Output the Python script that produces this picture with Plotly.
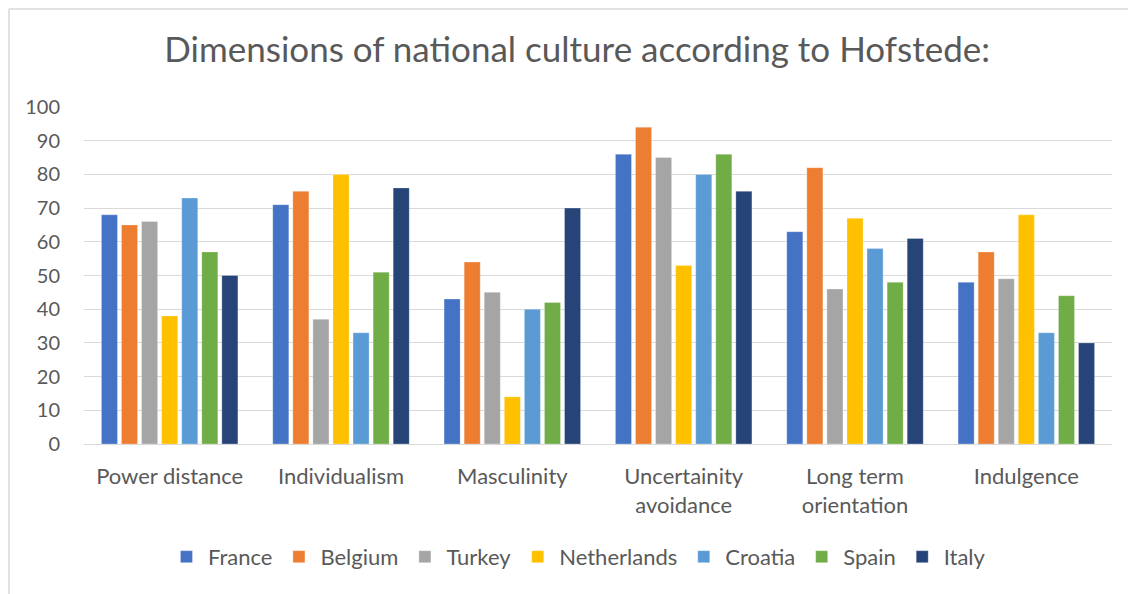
import plotly.graph_objects as go

categories = ["Power distance", "Individualism", "Masculinity",
              "Uncertainity<br>avoidance", "Long term<br>orientation", "Indulgence"]
countries = ["France", "Belgium", "Turkey", "Netherlands", "Croatia", "Spain", "Italy"]
france = [68, 71, 43, 86, 63, 48]
belgium = [65, 75, 54, 94, 82, 57]
turkey = [66, 37, 45, 85, 46, 49]
netherlands = [38, 80, 14, 53, 67, 68]
croatia = [73, 33, 40, 80, 58, 33]
spain = [57, 51, 42, 86, 48, 44]
italy = [50, 76, 70, 75, 61, 30]
series = [france, belgium, turkey, netherlands, croatia, spain, italy]
colors = ["#4472C4", "#ED7D31", "#A5A5A5", "#FFC000", "#5B9BD5", "#70AD47", "#264478"]
y_ticks = list(range(0, 101, 10))

FONT = "Lato"
TXT = "#595959"

fig = go.Figure()
for name, vals, col in zip(countries, series, colors):
    fig.add_trace(go.Bar(
        name=name, x=categories, y=vals,
        marker=dict(color=col, line=dict(color="rgba(255,255,255,0.35)", width=0.8)),
    ))

fig.update_layout(
    width=1136, height=594,
    paper_bgcolor="white", plot_bgcolor="white",
    barmode="group", bargap=0.18, bargroupgap=0.2,
    margin=dict(l=76, r=32, t=99, b=158),
    font=dict(family=FONT, color=TXT, size=20),
    title=dict(text="Dimensions of national culture according to Hofstede:",
               x=0.501, xanchor="center", y=0.929, yanchor="middle",
               font=dict(family=FONT, size=35, color=TXT)),
    xaxis=dict(showgrid=False, showline=False, ticks="",
               ticklabelstandoff=17,
               tickfont=dict(size=22, color=TXT)),
    yaxis=dict(range=[0, 100], tickvals=y_ticks, showgrid=True,
               gridcolor="#D9D9D9", gridwidth=1.2, zeroline=True,
               zerolinecolor="#D9D9D9", zerolinewidth=1.2,
               ticks="", ticklabelstandoff=23,
               tickfont=dict(size=20, color=TXT)),
    legend=dict(orientation="h", x=0.4805, xanchor="center", y=-0.335, yanchor="middle",
                font=dict(size=22, color=TXT), itemwidth=33,
                traceorder="normal"),
    shapes=[
        dict(type="line", xref="paper", yref="paper", x0=-0.073, x1=1.04,
             y0=1.291, y1=1.291, line=dict(color="#D9D9D9", width=1.5)),
        dict(type="line", xref="paper", yref="paper", x0=-0.073, x1=-0.073,
             y0=1.291, y1=-0.5, line=dict(color="#D9D9D9", width=1.5)),
    ],
)
fig.write_html("out.html")
